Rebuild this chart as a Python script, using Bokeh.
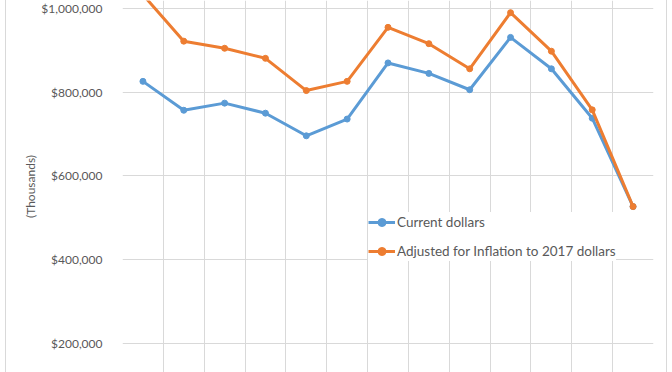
import math
from bokeh.plotting import figure
from bokeh.models import (FixedTicker, NumeralTickFormatter, Range1d,
                          ColumnDataSource, Legend, LegendItem)
from bokeh.embed import file_html
from bokeh.resources import INLINE

years = [2005, 2006, 2007, 2008, 2009, 2010, 2011, 2012, 2013, 2014, 2015, 2016, 2017]
current_dollars = [826000, 757000, 774000, 750000, 696000, 736000, 870000,
                   845000, 806000, 931000, 856000, 738000, 527000]
adjusted_2017 = [1033000, 922000, 905000, 881000, 804000, 826000, 955000,
                 916000, 856000, 990000, 898000, 758000, 527000]
y_ticks = [200000, 400000, 600000, 800000, 1000000]

BLUE = "#5B9BD5"
ORANGE = "#ED7D31"
GRID = "#D9D9D9"
TEXT = "#595959"
FONT = "Lato"

src = ColumnDataSource(dict(year=years, cur=current_dollars, adj=adjusted_2017))

p = figure(width=672, height=372, output_backend="svg", toolbar_location=None,
           x_range=Range1d(years[0] - 0.5, years[-1] + 0.5),
           y_range=Range1d(130746, 1019104),
           min_border_left=122, min_border_right=19,
           min_border_top=0, min_border_bottom=0)
p.outline_line_color = None
p.background_fill_color = "white"
p.border_fill_alpha = 0
p.styles = {"background-color": "white",
            "box-shadow": f"inset 5px 0 0 white, inset 6px 0 0 {GRID}, "
                          f"inset -5px 0 0 white, inset -6px 0 0 {GRID}"}

p.xaxis.visible = False
p.xgrid.ticker = FixedTicker(ticks=[y - 0.5 for y in years] + [years[-1] + 0.5])
p.xgrid.grid_line_color = GRID
p.xgrid.grid_line_width = 1

yax = p.yaxis[0]
yax.ticker = FixedTicker(ticks=y_ticks)
yax.formatter = NumeralTickFormatter(format="$0,0")
yax.axis_line_color = None
yax.major_tick_line_color = None
yax.minor_tick_line_color = None
yax.major_label_standoff = 14
yax.major_label_text_font = FONT
yax.major_label_text_font_size = "12px"
yax.major_label_text_color = TEXT
yax.axis_label = "(Thousands)"
yax.axis_label_standoff = 0
yax.axis_label_text_font = FONT
yax.axis_label_text_font_size = "12px"
yax.axis_label_text_font_style = "normal"
yax.axis_label_text_color = TEXT
p.ygrid.ticker = FixedTicker(ticks=y_ticks)
p.ygrid.grid_line_color = GRID
p.ygrid.grid_line_width = 1

l1 = p.line("year", "cur", source=src, line_color=BLUE, line_width=3)
s1 = p.scatter("year", "cur", source=src, size=6, fill_color=BLUE, line_color=BLUE)
l2 = p.line("year", "adj", source=src, line_color=ORANGE, line_width=3)
s2 = p.scatter("year", "adj", source=src, size=6, fill_color=ORANGE, line_color=ORANGE)

legend = Legend(items=[LegendItem(label="Current dollars", renderers=[l1, s1]),
                       LegendItem(label="Adjusted for Inflation to 2017 dollars", renderers=[l2, s2])],
                location=(246, 111), padding=8, spacing=9,
                glyph_width=27, glyph_height=20, label_height=20, label_standoff=2,
                label_text_font=FONT, label_text_font_size="13.5px",
                label_text_color=TEXT, border_line_color=None,
                background_fill_color="white", background_fill_alpha=1.0)
p.add_layout(legend, "center")

open("out.html", "w").write(file_html(p, INLINE))
